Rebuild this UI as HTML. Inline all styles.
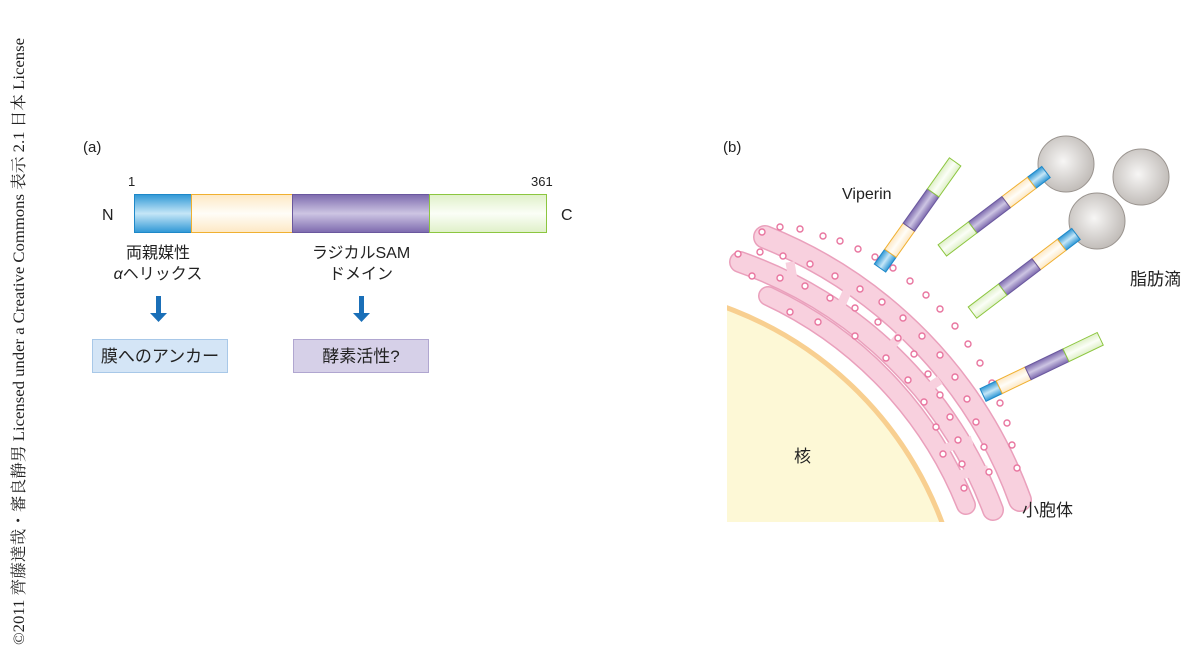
<!DOCTYPE html>
<html><head><meta charset="utf-8"><style>
html,body{margin:0;padding:0;background:#fff;overflow:hidden;width:1200px;height:658px}
svg{display:block}
text{font-family:"Liberation Sans","Noto Sans CJK JP",sans-serif;fill:#222}
</style></head><body>
<svg width="1200" height="658" viewBox="0 0 1200 658" xmlns="http://www.w3.org/2000/svg">
<defs>
<linearGradient id="gb" x1="0" y1="0" x2="0" y2="1"><stop offset="0" stop-color="#2f98d6"/><stop offset=".5" stop-color="#c5e6f7"/><stop offset="1" stop-color="#2f98d6"/></linearGradient>
<linearGradient id="gy" x1="0" y1="0" x2="0" y2="1"><stop offset="0" stop-color="#fde8c4"/><stop offset=".5" stop-color="#fffdf8"/><stop offset="1" stop-color="#fde8c4"/></linearGradient>
<linearGradient id="gp" x1="0" y1="0" x2="0" y2="1"><stop offset="0" stop-color="#7d6aae"/><stop offset=".5" stop-color="#cdc5e3"/><stop offset="1" stop-color="#7d6aae"/></linearGradient>
<linearGradient id="gg" x1="0" y1="0" x2="0" y2="1"><stop offset="0" stop-color="#dff0c8"/><stop offset=".5" stop-color="#fbfef7"/><stop offset="1" stop-color="#dff0c8"/></linearGradient>
<radialGradient id="gd" cx=".45" cy=".45" r=".6"><stop offset="0" stop-color="#f7f6f5"/><stop offset="1" stop-color="#bdb8b4"/></radialGradient>
<clipPath id="cl"><rect x="727" y="200" width="400" height="322"/></clipPath>
<g id="rod">
<rect x="0" y="-7" width="18" height="14" fill="url(#gb)" stroke="#1e88c8"/>
<rect x="18" y="-7" width="32" height="14" fill="url(#gy)" stroke="#f0b030"/>
<rect x="50" y="-7" width="42" height="14" fill="url(#gp)" stroke="#6a589e"/>
<rect x="92" y="-7" width="38" height="14" fill="url(#gg)" stroke="#8cc63f"/>
</g>
</defs>
<text transform="translate(24,645) rotate(-90)" font-size="16" textLength="607" lengthAdjust="spacingAndGlyphs" style="font-family:'Liberation Serif','Noto Serif CJK SC',serif">©2011 齊藤達哉・審良静男 Licensed under a Creative Commons 表示 2.1 日本 License</text>

<!-- (a) -->
<text x="83" y="152" font-size="15">(a)</text>
<text x="128" y="186" font-size="13">1</text>
<text x="531" y="186" font-size="13">361</text>
<text x="102" y="220" font-size="16">N</text>
<text x="561" y="220" font-size="16">C</text>
<rect x="134.5" y="194.5" width="57" height="38" fill="url(#gb)" stroke="#1e88c8"/>
<rect x="191.5" y="194.5" width="101" height="38" fill="url(#gy)" stroke="#f0b030"/>
<rect x="292.5" y="194.5" width="137" height="38" fill="url(#gp)" stroke="#6a589e"/>
<rect x="429.5" y="194.5" width="117" height="38" fill="url(#gg)" stroke="#8cc63f"/>
<text x="158" y="258" font-size="16" text-anchor="middle">両親媒性</text>
<text x="158" y="279" font-size="16" text-anchor="middle"><tspan font-style="italic">α</tspan>ヘリックス</text>
<text x="361" y="258" font-size="16" text-anchor="middle">ラジカルSAM</text>
<text x="361" y="279" font-size="16" text-anchor="middle">ドメイン</text>
<rect x="156" y="296" width="5" height="18" fill="#1a6fb8"/><path d="M150 313h17l-8.5 9z" fill="#1a6fb8"/>
<rect x="359" y="296" width="5" height="18" fill="#1a6fb8"/><path d="M353 313h17l-8.5 9z" fill="#1a6fb8"/>
<rect x="92.5" y="339.5" width="135" height="33" fill="#d4e5f6" stroke="#a8c8e8"/>
<text x="160" y="362" font-size="17" text-anchor="middle">膜へのアンカー</text>
<rect x="293.5" y="339.5" width="135" height="33" fill="#d6d0e8" stroke="#b0a6d0"/>
<text x="361" y="362" font-size="17" text-anchor="middle">酵素活性?</text>

<!-- (b) -->
<text x="723" y="152" font-size="15">(b)</text>
<g clip-path="url(#cl)">
<circle cx="600" cy="650" r="365" fill="#fdf8d6" stroke="#f8cf90" stroke-width="5"/>
<g fill="none" stroke-linecap="round">
<path d="M765 237 A448 448 0 0 1 1020 500" stroke="#eaa0bc" stroke-width="24"/>
<path d="M765 237 A448 448 0 0 1 1020 500" stroke="#f8d0de" stroke-width="21"/>
<path d="M740 262 A418 418 0 0 1 993 510" stroke="#eaa0bc" stroke-width="22"/>
<path d="M740 262 A418 418 0 0 1 993 510" stroke="#f8d0de" stroke-width="19"/>
<path d="M768 296 A392 392 0 0 1 966 505" stroke="#eaa0bc" stroke-width="20"/>
<path d="M768 296 A392 392 0 0 1 966 505" stroke="#f8d0de" stroke-width="17"/>
</g>
<g stroke="#f8d0de" stroke-width="9">
<line x1="790" y1="262" x2="795" y2="292"/><line x1="850" y1="285" x2="838" y2="312"/>
<line x1="905" y1="330" x2="888" y2="350"/><line x1="940" y1="380" x2="918" y2="395"/>
<line x1="972" y1="440" x2="946" y2="448"/><line x1="988" y1="470" x2="958" y2="475"/>
</g>
<g fill="#fff" stroke="#e8759f" stroke-width="1.4">
<circle cx="762" cy="232" r="3"/><circle cx="780" cy="227" r="3"/><circle cx="800" cy="229" r="3"/><circle cx="823" cy="236" r="3"/><circle cx="840" cy="241" r="3"/><circle cx="858" cy="249" r="3"/><circle cx="875" cy="257" r="3"/><circle cx="893" cy="268" r="3"/><circle cx="910" cy="281" r="3"/><circle cx="926" cy="295" r="3"/><circle cx="940" cy="309" r="3"/><circle cx="955" cy="326" r="3"/><circle cx="968" cy="344" r="3"/><circle cx="980" cy="363" r="3"/><circle cx="992" cy="383" r="3"/><circle cx="1000" cy="403" r="3"/><circle cx="1007" cy="423" r="3"/><circle cx="1012" cy="445" r="3"/><circle cx="1017" cy="468" r="3"/>
<circle cx="738" cy="254" r="3"/><circle cx="760" cy="252" r="3"/><circle cx="783" cy="256" r="3"/><circle cx="810" cy="264" r="3"/><circle cx="835" cy="276" r="3"/><circle cx="860" cy="289" r="3"/><circle cx="882" cy="302" r="3"/><circle cx="903" cy="318" r="3"/><circle cx="922" cy="336" r="3"/><circle cx="940" cy="355" r="3"/><circle cx="955" cy="377" r="3"/><circle cx="967" cy="399" r="3"/><circle cx="976" cy="422" r="3"/><circle cx="984" cy="447" r="3"/><circle cx="989" cy="472" r="3"/>
<circle cx="752" cy="276" r="3"/><circle cx="780" cy="278" r="3"/><circle cx="805" cy="286" r="3"/><circle cx="830" cy="298" r="3"/><circle cx="855" cy="308" r="3"/><circle cx="878" cy="322" r="3"/><circle cx="898" cy="338" r="3"/><circle cx="914" cy="354" r="3"/><circle cx="928" cy="374" r="3"/><circle cx="940" cy="395" r="3"/><circle cx="950" cy="417" r="3"/><circle cx="958" cy="440" r="3"/><circle cx="962" cy="464" r="3"/><circle cx="964" cy="488" r="3"/>
<circle cx="790" cy="312" r="3"/><circle cx="818" cy="322" r="3"/><circle cx="855" cy="336" r="3"/><circle cx="886" cy="358" r="3"/><circle cx="908" cy="380" r="3"/><circle cx="924" cy="402" r="3"/><circle cx="936" cy="427" r="3"/><circle cx="943" cy="454" r="3"/>
</g>
</g>
<g transform="translate(880,268) rotate(-54.7)"><use href="#rod"/></g>
<circle cx="1066" cy="164" r="28" fill="url(#gd)" stroke="#9a948f"/>
<circle cx="1141" cy="177" r="28" fill="url(#gd)" stroke="#9a948f"/>
<circle cx="1097" cy="221" r="28" fill="url(#gd)" stroke="#9a948f"/>
<g transform="translate(1046,172) rotate(142.9)"><use href="#rod"/></g>
<g transform="translate(1076,234) rotate(142.8)"><use href="#rod"/></g>
<g transform="translate(983,395) rotate(-25.6)"><use href="#rod"/></g>
<text x="842" y="199" font-size="16">Viperin</text>
<text x="1130" y="285" font-size="17">脂肪滴</text>
<text x="794" y="462" font-size="17">核</text>
<text x="1022" y="516" font-size="17">小胞体</text>
</svg>
</body></html>
